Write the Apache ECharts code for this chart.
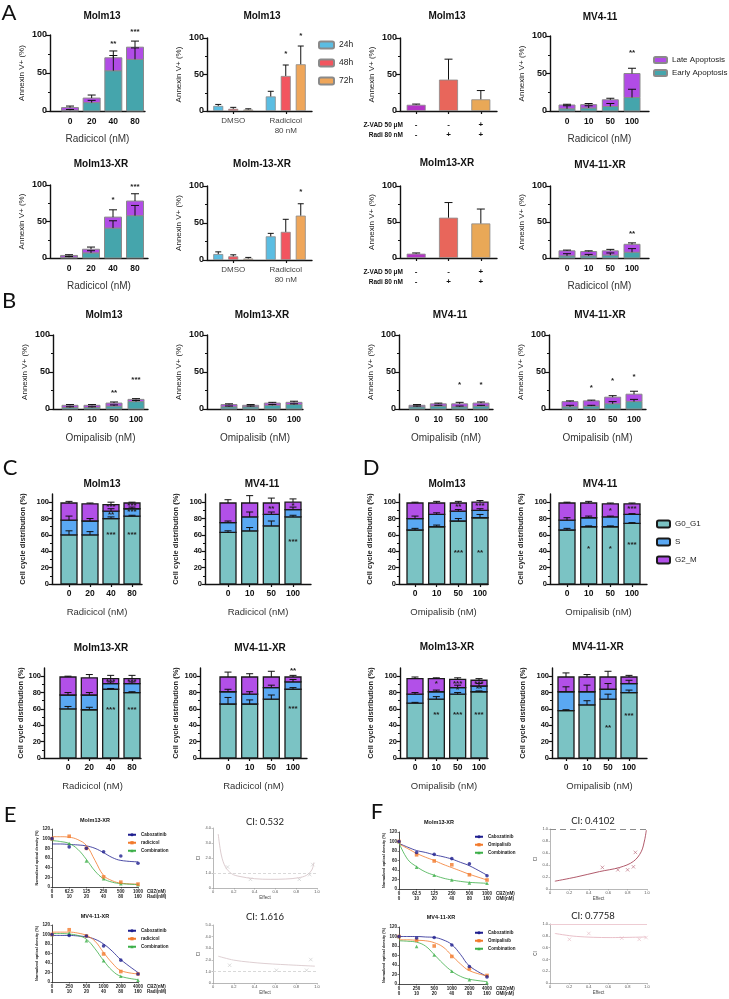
<!DOCTYPE html>
<html>
<head>
<meta charset="utf-8">
<title>Apoptosis, cell cycle and synergy panels</title>
<script src="https://cdn.jsdelivr.net/npm/echarts@6.0.0/dist/echarts.min.js"></script>
<style>
  html, body { margin: 0; padding: 0; background: #fff; }
  #chart { width: 729px; height: 999px; }
</style>
</head>
<body>
<div id="chart"></div>
<script>
// ---- categories / tick labels ----
const radiMolm = ['0', '20', '40', '80'];
const radiMv = ['0', '10', '50', '100'];
const omiDoses = ['0', '10', '50', '100'];
const timeGroups = ['DMSO', 'Radicicol\n80 nM'];
const zvadSigns = ['-', '-', '+'];
const radiSigns = ['-', '+', '+'];
const cycleTicks = [0, 20, 40, 60, 80, 100];
const cbzSmall = ['0', '62.5', '125', '250', '500', '1000'];
const cbzLarge = ['0', '250', '500', '1000', '2000', '4000'];
const partnerDoses = ['0', '10', '20', '40', '80', '160'];

// ---- A: Annexin V+ (%) ----
const a1Early = [1, 11, 53, 68];
const a1Late = [3.5, 6, 17, 16];
const a1EarlyErr = [1, 3, 20, 15];
const a1LateErr = [2, 4, 9, 8];
const a1Stars = [[2, 88, '**'], [3, 104, '***']];

const a2H24 = [7, 20];
const a2H48 = [3, 48];
const a2H72 = [2, 64];
const a2Err24 = [2, 7];
const a2Err48 = [2, 15];
const a2Err72 = [1, 25];
const a2Stars48 = [[1, 78, '*']];
const a2Stars72 = [[1, 103, '*']];

const a3Vals = [8.5, 43, 16];
const a3Err = [1, 28, 12];

const a4Early = [3, 4, 6, 18];
const a4Late = [5, 4.5, 9, 32];
const a4EarlyErr = [4, 3, 4, 11];
const a4LateErr = [1, 1.5, 2, 7];
const a4Stars = [[3, 77, '**']];

const a5Early = [1, 7, 41, 58];
const a5Late = [2.5, 5, 15, 20];
const a5EarlyErr = [1, 3, 10, 14];
const a5LateErr = [1, 3, 10, 10];
const a5Stars = [[2, 80, '*'], [3, 97, '***']];

const a6H24 = [8, 32];
const a6H48 = [5, 38];
const a6H72 = [2, 60];
const a6Err24 = [3, 4];
const a6Err48 = [2, 17];
const a6Err72 = [1.5, 16];
const a6Stars72 = [[1, 92, '*']];

const a7Vals = [6, 56, 48];
const a7Err = [1, 21, 20];

const a8Early = [3, 3, 4, 8];
const a8Late = [7, 6, 6, 11];
const a8EarlyErr = [3, 2, 3, 5];
const a8LateErr = [1, 1, 2, 2];
const a8Stars = [[3, 33, '**']];

// ---- B: Annexin V+ (%), omipalisib ----
const b1Early = [2, 2, 4, 10];
const b1Late = [3, 3, 4, 3];
const b1EarlyErr = [1, 1, 1.5, 1.5];
const b1LateErr = [1, 1, 1.5, 1];
const b1Stars = [[2, 22, '**'], [3, 40, '***']];

const b2Early = [3, 3, 5, 6];
const b2Late = [3, 2, 3, 3];
const b2EarlyErr = [1, 1, 1, 1];
const b2LateErr = [1, 1, 1, 1.5];

const b3Early = [3, 4, 3, 4];
const b3Late = [2, 3, 4, 4];
const b3EarlyErr = [1, 1, 1, 1];
const b3LateErr = [1, 1, 2, 1.5];
const b3Stars = [[2, 33, '*'], [3, 33, '*']];

const b4Early = [3, 4, 7, 10];
const b4Late = [7, 7, 9, 10];
const b4EarlyErr = [2, 1, 3, 3];
const b4LateErr = [1, 1, 2, 4];
const b4Stars = [[1, 28, '*'], [2, 38, '*'], [3, 44, '*']];

// ---- C: cell cycle, radicicol ----
const c1G0 = [60, 60, 80, 83];
const c1S = [18, 17, 9, 9];
const c1G2 = [21, 21, 8, 7];
const c1G0Err = [5, 4, 2, 1];
const c1SErr = [5, 3, 3, 2];
const c1G2Err = [2, 1, 3, 1];
const c1Stars = [[2, 60, '***'], [3, 60, '***'], [2, 85, '**'], [3, 88, '***'], [2, 94, '***'], [3, 96, '***']];

const c2G0 = [63, 65, 71, 82];
const c2S = [12, 17, 14, 9];
const c2G2 = [24, 17, 14, 9];
const c2G0Err = [2, 4, 6, 2];
const c2SErr = [2, 6, 3, 3];
const c2G2Err = [4, 9, 6, 4];
const c2Stars = [[2, 92, '**'], [3, 96, '*'], [3, 52, '***']];

const c3G0 = [60, 59, 84, 80];
const c3S = [17, 18, 7, 11];
const c3G2 = [22, 21, 6, 6];
const c3G0Err = [3, 3, 1, 1];
const c3SErr = [3, 3, 2, 2];
const c3G2Err = [1, 4, 4, 4];
const c3Stars = [[2, 59, '***'], [3, 59, '***'], [2, 93, '***'], [3, 93, '***']];

const c4G0 = [66, 66, 72, 84];
const c4S = [15, 12, 14, 9];
const c4G2 = [18, 21, 13, 6];
const c4G0Err = [8, 5, 5, 2];
const c4SErr = [3, 3, 3, 3];
const c4G2Err = [6, 4, 7, 2];
const c4Stars = [[3, 107, '**'], [3, 60, '***']];

// ---- D: cell cycle, omipalisib ----
const d1G0 = [66, 70, 77, 81];
const d1S = [14, 15, 12, 9];
const d1G2 = [19, 14, 10, 10];
const d1G0Err = [2, 2, 3, 4];
const d1SErr = [3, 2, 2, 2];
const d1G2Err = [1, 2, 2, 2];
const d1Stars = [[2, 38, '***'], [3, 38, '**'], [2, 94, '**'], [3, 95, '***']];

const d2G0 = [66, 70, 70, 74];
const d2S = [12, 11, 12, 11];
const d2G2 = [21, 18, 16, 13];
const d2G0Err = [2, 1, 1, 1];
const d2SErr = [3, 2, 1, 1];
const d2G2Err = [1, 2, 1, 1];
const d2Stars = [[1, 43, '*'], [2, 43, '*'], [3, 48, '***'], [2, 90, '*'], [3, 92, '***']];

const d3G0 = [67, 72, 78, 81];
const d3S = [11, 9, 8, 7];
const d3G2 = [19, 16, 10, 7];
const d3G0Err = [1, 3, 2, 1];
const d3SErr = [2, 2, 3, 3];
const d3G2Err = [2, 1, 2, 2];
const d3Stars = [[1, 53, '**'], [2, 53, '***'], [3, 53, '***'], [1, 91, '*'], [2, 91, '***'], [3, 91, '***'], [2, 83, '*'], [3, 85, '**']];

const d4G0 = [58, 65, 72, 80];
const d4S = [23, 16, 12, 11];
const d4G2 = [18, 18, 15, 8];
const d4G0Err = [1, 5, 6, 3];
const d4SErr = [6, 8, 7, 4];
const d4G2Err = [5, 3, 7, 2];
const d4Stars = [[2, 37, '**'], [3, 52, '***']];

// ---- E / F: dose response (points + fitted curves read at fitX) ----
const fitX = [0, 0.5, 1, 1.5, 2, 2.5, 3, 3.5, 4, 5];

const e1CaboPts = [100, 83, 80, 73, 64, 49];
const e1RadiPts = [100, 105, 80, 21, 10, 6];
const e1CombPts = [100, 90, 54, 17, 7, 5];
const e1CaboFit = [89, 89, 88, 87, 85, 80, 71, 61, 55, 52];
const e1RadiFit = [104, 104, 103, 98, 86, 55, 24, 13, 8, 6];
const e1CombFit = [96, 94, 90, 78, 57, 33, 17, 10, 7, 5];

const e3CaboPts = [100, 98, 97, 76, 46, 17];
const e3RadiPts = [100, 110, 97, 59, 22, 17];
const e3CombPts = [100, 103, 87, 45, 12, 4];
const e3CaboFit = [98, 98, 98, 97, 95, 90, 80, 65, 47, 20];
const e3RadiFit = [105, 105, 105, 103, 98, 86, 62, 40, 24, 17];
const e3CombFit = [102, 102, 101, 98, 90, 70, 45, 24, 12, 5];

const f1CaboPts = [100, 77, 73, 64, 53, 28];
const f1OmiPts = [100, 72, 59, 51, 30, 19];
const f1CombPts = [100, 46, 29, 19, 13, 12];
const f1CaboFit = [96, 88, 81, 77, 72, 68, 63, 56, 49, 29];
const f1OmiFit = [95, 85, 75, 67, 60, 52, 45, 38, 31, 19];
const f1CombFit = [97, 62, 47, 36, 29, 23, 19, 16, 14, 12];

const f3CaboPts = [100, 97, 98, 82, 37, 15];
const f3OmiPts = [100, 92, 80, 58, 32, 18];
const f3CombPts = [100, 79, 61, 27, 9, 3];
const f3CaboFit = [100, 100, 100, 99, 98, 93, 83, 62, 38, 16];
const f3OmiFit = [93, 93, 92, 91, 87, 78, 60, 42, 28, 17];
const f3CombFit = [91, 90, 88, 80, 62, 43, 27, 16, 10, 5];

// ---- E / F: combination index vs effect ----
const e2CurveX = [0.05, 0.08, 0.12, 0.18, 0.25, 0.4, 0.55, 0.7, 0.82, 0.9, 0.95, 0.97];
const e2CurveY = [3.6, 2.2, 1.4, 0.95, 0.78, 0.62, 0.58, 0.6, 0.68, 0.85, 1.2, 1.7];
const e2PtsX = [0.14, 0.36, 0.83, 0.93, 0.96];
const e2PtsY = [1.4, 0.58, 0.58, 0.89, 1.56];

const e4CurveX = [0.05, 0.2, 0.35, 0.5, 0.65, 0.8, 0.98];
const e4CurveY = [2.31, 1.97, 1.8, 1.68, 1.6, 1.53, 1.45];
const e4PtsX = [0.16, 0.61, 0.9, 0.94];
const e4PtsY = [1.53, 1.1, 1.1, 2.02];

const f2CurveX = [0.05, 0.27, 0.51, 0.72, 0.86, 0.94, 0.976, 0.993];
const f2CurveY = [0.13, 0.2, 0.29, 0.36, 0.46, 0.62, 0.82, 0.98];
const f2PtsX = [0.54, 0.7, 0.8, 0.86, 0.88];
const f2PtsY = [0.36, 0.32, 0.32, 0.37, 0.61];

const f4CurveX = [0.05, 0.27, 0.62, 0.99];
const f4CurveY = [0.84, 0.79, 0.77, 0.78];
const f4PtsX = [0.2, 0.4, 0.74, 0.92, 0.99];
const f4PtsY = [0.74, 0.84, 0.76, 0.74, 0.77];

// ---- colours ----
const TEAL_A = '#45a5ac', PURPLE_A = '#b14ce6';
const TEAL_C = '#7bc3c4', BLUE_S = '#5aa8f3', PURPLE_C = '#b250e8';
const C24 = '#5bbde2', C48 = '#f2555f', C72 = '#efa65a';
const ZCOL = ['#b434c6', '#e8665b', '#e9a857'];
const NAVY = '#1f1f8f', ORANGE = '#f27a2c', GREEN = '#3daf49';

const ARIAL = '"Liberation Sans", Arial, sans-serif';
const CAL = 'Lato, "Open Sans", sans-serif';

const chart = echarts.init(document.getElementById('chart'));
const opt = {
  animation: false,
  backgroundColor: '#ffffff',
  textStyle: { fontFamily: ARIAL },
  grid: [], xAxis: [], yAxis: [], series: [], legend: [], graphic: []
};

function label(text, x, y, font, color, align) {
  opt.graphic.push({
    type: 'text', x: x, y: y, silent: true,
    style: {
      text: text, font: font, fill: color || '#111',
      align: align || 'center', textAlign: align || 'center',
      verticalAlign: 'middle', textVerticalAlign: 'middle'
    }
  });
}

function addGrid(ax, end, yTop, yBot) {
  opt.grid.push({ left: ax, top: yTop, width: end - ax, height: yBot - yTop });
  return opt.grid.length - 1;
}

// onZero off: the value x axes start below zero, keep the y axis at the grid edge
const AXIS_LINE = { show: true, onZero: false, lineStyle: { color: '#111', width: 1.4 } };

// one stacked segment per data item: [x, base, top]
function segmentSeries(gi, name, color, border, bw, lw, data) {
  return {
    type: 'custom', name: name, xAxisIndex: gi, yAxisIndex: gi, silent: true, z: 2, data: data,
    itemStyle: { color: color, borderColor: border, borderWidth: 1 },
    renderItem: function (params, api) {
      const lo = api.coord([api.value(0), api.value(1)]);
      const hi = api.coord([api.value(0), api.value(2)]);
      return {
        type: 'rect',
        shape: { x: lo[0] - bw / 2, y: hi[1], width: bw, height: lo[1] - hi[1] },
        style: { fill: color, stroke: border, lineWidth: lw }
      };
    }
  };
}

// error bar drawn upward from a bar top: [x, top, err, dxPixels]
function errorSeries(gi, data, cap) {
  return {
    type: 'custom', xAxisIndex: gi, yAxisIndex: gi, silent: true, z: 4, data: data,
    renderItem: function (params, api) {
      const base = api.coord([api.value(0), api.value(1)]);
      const tip = api.coord([api.value(0), api.value(1) + api.value(2)]);
      const x = base[0] + (api.value(3) || 0);
      const st = { stroke: '#111', lineWidth: 1 };
      return {
        type: 'group', children: [
          { type: 'line', shape: { x1: x, y1: base[1], x2: x, y2: tip[1] }, style: st },
          { type: 'line', shape: { x1: x - cap, y1: tip[1], x2: x + cap, y2: tip[1] }, style: st }
        ]
      };
    }
  };
}

// significance marks: [x, y, text, dxPixels]
function starSeries(gi, stars, font) {
  return {
    type: 'custom', xAxisIndex: gi, yAxisIndex: gi, silent: true, z: 5,
    data: stars.map(s => [s[0], s[1], s[3] || 0]),
    renderItem: function (params, api) {
      const p = api.coord([api.value(0), api.value(1)]);
      return {
        type: 'text', x: p[0] + api.value(2), y: p[1],
        style: {
          text: stars[params.dataIndex][2], font: font, fill: '#222',
          align: 'center', textAlign: 'center', verticalAlign: 'middle', textVerticalAlign: 'middle'
        }
      };
    }
  };
}

function apopYAxis(gi, nameGap) {
  return {
    type: 'value', gridIndex: gi, min: 0, max: 100, interval: 50,
    axisLine: AXIS_LINE,
    axisTick: { show: true, length: 4, lineStyle: { color: '#111', width: 1.2 } },
    minorTick: { show: true, splitNumber: 2, length: 2, lineStyle: { color: '#111', width: 1 } },
    splitLine: { show: false },
    axisLabel: { fontSize: 9, fontWeight: 'bold', color: '#111', margin: 3 },
    name: 'Annexin V+ (%)', nameLocation: 'middle', nameGap: nameGap || 24,
    nameTextStyle: { fontSize: 8, color: '#222' }
  };
}

function cycleYAxis(gi, nameGap) {
  return {
    type: 'value', gridIndex: gi, min: 0, max: 110, interval: 20,
    axisLine: AXIS_LINE,
    axisTick: { show: true, length: 3.5, customValues: cycleTicks, lineStyle: { color: '#111', width: 1.2 } },
    minorTick: { show: true, splitNumber: 2, length: 2, lineStyle: { color: '#111', width: 1 } },
    splitLine: { show: false },
    axisLabel: { customValues: cycleTicks, fontSize: 7.5, fontWeight: 'bold', color: '#111', margin: 3 },
    name: 'Cell cycle distribution (%)', nameLocation: 'middle', nameGap: nameGap || 24,
    nameTextStyle: { fontSize: 7.5, fontWeight: 'bold', color: '#222' }
  };
}

// stacked bars on a value x axis so category centres can be placed exactly
function stackPanel(p) {
  const gi = addGrid(p.ax, p.end, p.yTop, p.yBot);
  const n = p.cats.length;
  const step = (p.c1 - p.c0) / (n - 1);
  const cycle = p.kind === 'cycle';
  const bw = p.bw || 16;
  const idx = p.cats.map((c, i) => i);
  opt.xAxis.push({
    type: 'value', gridIndex: gi,
    min: -(p.c0 - p.ax) / step, max: (n - 1) + (p.end - p.c1) / step,
    axisLine: AXIS_LINE,
    axisTick: { show: cycle, length: 3, customValues: idx, lineStyle: { color: '#111', width: 1.2 } },
    splitLine: { show: false },
    axisLabel: {
      customValues: idx, formatter: v => p.cats[Math.round(v)],
      fontSize: 8.5, fontWeight: 'bold', color: '#111', margin: cycle ? 5 : 6
    },
    name: p.xName, nameLocation: 'middle', nameGap: p.xGap || 23,
    nameTextStyle: { fontSize: cycle ? 9.5 : 10, color: '#333' }
  });
  opt.yAxis.push(cycle ? cycleYAxis(gi, p.yGap) : apopYAxis(gi, p.yGap));
  let cum = p.cats.map(() => 0);
  const errData = [];
  p.segs.forEach(s => {
    const base = cum.slice();
    cum = cum.map((c, i) => c + s.vals[i]);
    opt.series.push(segmentSeries(gi, s.name, s.color, cycle ? '#1a1a1a' : '#8a8a8a', bw, cycle ? 1.3 : 1,
      s.vals.map((v, i) => [i, base[i], cum[i]])));
    s.errs.forEach((e, i) => errData.push([i, cum[i], e, 0]));
  });
  opt.series.push(errorSeries(gi, errData, cycle ? 3.5 : 4));
  if (p.stars) opt.series.push(starSeries(gi, p.stars, 'bold 8px ' + ARIAL));
  label(p.title, p.tx, p.ty, 'bold 10px ' + ARIAL);
}

// grouped bars (time course)
function groupPanel(p) {
  const gi = addGrid(p.ax, p.end, p.yTop, p.yBot);
  opt.xAxis.push({
    type: 'category', gridIndex: gi, data: p.cats,
    axisLine: AXIS_LINE,
    axisTick: { show: true, alignWithLabel: true, length: 3, lineStyle: { color: '#111', width: 1.2 } },
    axisLabel: { fontSize: 8, color: '#444', lineHeight: 10, margin: 5, interval: 0 }
  });
  opt.yAxis.push(apopYAxis(gi));
  const m = p.sets.length;
  const errData = [], stars = [];
  p.sets.forEach((s, k) => {
    opt.series.push({
      type: 'bar', name: s.name, xAxisIndex: gi, yAxisIndex: gi,
      barWidth: p.bw, barGap: p.gap + '%', data: s.vals,
      itemStyle: { color: s.color, borderColor: '#8a8a8a', borderWidth: 0.8 }
    });
    const dx = (k - (m - 1) / 2) * p.bw * (1 + p.gap / 100);
    s.vals.forEach((v, i) => errData.push([i, v, s.errs[i], dx]));
    (s.stars || []).forEach(st => stars.push([st[0], st[1], st[2], dx]));
  });
  opt.series.push(errorSeries(gi, errData, 3));
  if (stars.length) opt.series.push(starSeries(gi, stars, 'bold 8px ' + ARIAL));
  label(p.title, p.tx, p.ty, 'bold 10px ' + ARIAL);
}

// Z-VAD rescue bars
function zvadPanel(p) {
  const gi = addGrid(p.ax, p.end, p.yTop, p.yBot);
  opt.xAxis.push({
    type: 'category', gridIndex: gi, data: zvadSigns.map((z, i) => z + '\n' + radiSigns[i]),
    axisLine: AXIS_LINE,
    axisTick: { show: true, alignWithLabel: true, length: 3, lineStyle: { color: '#111', width: 1.2 } },
    axisLabel: { fontSize: 8, fontWeight: 'bold', color: '#111', lineHeight: 10, margin: 9, interval: 0 }
  });
  opt.yAxis.push(apopYAxis(gi));
  opt.series.push({
    type: 'bar', xAxisIndex: gi, yAxisIndex: gi, barWidth: 19,
    data: p.vals.map((v, i) => ({ value: v, itemStyle: { color: ZCOL[i] } })),
    itemStyle: { borderColor: '#8a8a8a', borderWidth: 0.8 }
  });
  opt.series.push(errorSeries(gi, p.vals.map((v, i) => [i, v, p.errs[i], 0]), 4));
  label('Z-VAD 50 μM', p.ax + 3, p.yBot + 14, 'bold 6.5px ' + ARIAL, '#111', 'right');
  label('Radi 80 nM', p.ax + 3, p.yBot + 24, 'bold 6.5px ' + ARIAL, '#111', 'right');
  label(p.title, p.tx, p.ty, 'bold 10px ' + ARIAL);
}

// dose-response curves
function dosePanel(p) {
  const gi = addGrid(p.ax, p.end, p.yTop, p.yBot);
  const idx = p.top.map((t, i) => i);
  const thin = { show: true, onZero: false, lineStyle: { color: '#222', width: 0.8 } };
  opt.xAxis.push({
    type: 'value', gridIndex: gi, min: 0, max: 5,
    axisLine: thin,
    axisTick: { show: true, length: 1.5, customValues: idx, lineStyle: { color: '#222', width: 0.6 } },
    splitLine: { show: false },
    axisLabel: {
      customValues: idx, formatter: v => p.top[Math.round(v)] + '\n' + p.bottom[Math.round(v)],
      fontSize: 4.5, lineHeight: 5.5, fontWeight: 'bold', color: '#222', margin: 2
    },
    name: p.xName, nameLocation: 'end', nameGap: 9,
    nameTextStyle: { fontSize: 4.5, lineHeight: 5.5, fontWeight: 'bold', color: '#222', align: 'left', verticalAlign: 'top', padding: [2, 0, 0, 0] }
  });
  opt.yAxis.push({
    type: 'value', gridIndex: gi, min: 0, max: 120, interval: 20,
    axisLine: thin,
    axisTick: { show: true, length: 1.5, lineStyle: { color: '#222', width: 0.6 } },
    splitLine: { show: false },
    axisLabel: { fontSize: 4.5, fontWeight: 'bold', color: '#222', margin: 2 },
    name: 'Normalized optical density (%)', nameLocation: 'middle', nameGap: 11,
    nameTextStyle: { fontSize: 3.8, fontWeight: 'bold', color: '#222' }
  });
  p.curves.forEach((c, k) => {
    opt.series.push({
      type: 'line', name: c.name, xAxisIndex: gi, yAxisIndex: gi,
      data: fitX.map((x, i) => [x, c.fit[i]]), smooth: 0.4,
      symbol: c.symbol, symbolSize: 4, showSymbol: false,
      lineStyle: { color: c.color, width: 0.8 }, itemStyle: { color: c.color }, z: 2
    });
    opt.series.push({
      type: 'scatter', xAxisIndex: gi, yAxisIndex: gi, silent: true,
      data: c.pts.map((v, i) => [i, v]), symbol: c.symbol, symbolSize: 3.6,
      itemStyle: { color: c.color }, z: 5 - k
    });
  });
  opt.legend.push({
    data: p.curves.map(c => c.name), orient: 'vertical', left: p.lx, top: p.ly,
    itemWidth: 8, itemHeight: 4, itemGap: 2.5, padding: 0, selectedMode: false,
    textStyle: { fontSize: 4.5, lineHeight: 5.5, fontWeight: 'bold', color: '#222' }
  });
  label(p.title, p.tx, p.ty, 'bold 5.5px ' + ARIAL);
}

// combination index vs effect
const CROSS = 'path://M0 0L10 10M10 0L0 10';
function ciPanel(p) {
  const gi = addGrid(p.ax, p.end, p.yTop, p.yBot);
  const axisCol = '#9a9a9a';
  const line = { show: true, onZero: false, lineStyle: { color: axisCol, width: 0.7 } };
  const fmt = v => (v === 0 ? '0' : v.toFixed(1));
  opt.xAxis.push({
    type: 'value', gridIndex: gi, min: 0, max: 1, interval: 0.2,
    axisLine: line,
    axisTick: { show: true, length: 1.5, lineStyle: { color: axisCol, width: 0.6 } },
    splitLine: { show: false },
    axisLabel: { fontSize: 4, color: '#555', margin: 2, formatter: fmt },
    name: 'Effect', nameLocation: 'middle', nameGap: 6,
    nameTextStyle: { fontSize: 4.5, color: '#444' }
  });
  opt.yAxis.push({
    type: 'value', gridIndex: gi, min: 0, max: p.yMax, interval: p.yStep,
    axisLine: line,
    axisTick: { show: true, length: 1.5, lineStyle: { color: axisCol, width: 0.6 } },
    splitLine: { show: false },
    axisLabel: { fontSize: 4, color: '#555', margin: 2, formatter: fmt },
    name: 'CI', nameLocation: 'middle', nameGap: 11,
    nameTextStyle: { fontSize: 4.5, color: '#444' }
  });
  opt.series.push({
    type: 'line', xAxisIndex: gi, yAxisIndex: gi, silent: true,
    data: p.cx.map((x, i) => [x, p.cy[i]]), smooth: 0.35, symbol: 'none',
    lineStyle: { color: p.color, width: 0.9 },
    markLine: { silent: true, symbol: 'none', label: { show: false }, data: [{ yAxis: 1 }], lineStyle: p.ref }
  });
  opt.series.push({
    type: 'scatter', xAxisIndex: gi, yAxisIndex: gi, silent: true,
    data: p.px.map((x, i) => [x, p.py[i]]), symbol: CROSS, symbolSize: 3.5,
    itemStyle: { color: 'rgba(0,0,0,0)', borderColor: p.ptColor, borderWidth: 0.7 }
  });
  label(p.title, p.tx, p.ty, '9.5px ' + CAL, '#222');
}

function apopSegs(early, late, earlyErr, lateErr) {
  return [
    { name: 'Early Apoptosis', vals: early, errs: earlyErr, color: TEAL_A },
    { name: 'Late Apoptosis', vals: late, errs: lateErr, color: PURPLE_A }
  ];
}
function cycleSegs(g0, s, g2, g0e, se, g2e) {
  return [
    { name: 'G0_G1', vals: g0, errs: g0e, color: TEAL_C },
    { name: 'S', vals: s, errs: se, color: BLUE_S },
    { name: 'G2_M', vals: g2, errs: g2e, color: PURPLE_C }
  ];
}

// ---------------- panel A ----------------
stackPanel({ kind: 'apop', title: 'Molm13', tx: 102, ty: 16, ax: 50, c0: 70, c1: 135, end: 145, yTop: 35, yBot: 111,
  cats: radiMolm, xName: 'Radicicol (nM)', segs: apopSegs(a1Early, a1Late, a1EarlyErr, a1LateErr), stars: a1Stars, bw: 17 });
groupPanel({ title: 'Molm13', tx: 262, ty: 16, ax: 207, end: 312, yTop: 38, yBot: 111, cats: timeGroups, bw: 10, gap: 50,
  sets: [
    { name: '24h', vals: a2H24, errs: a2Err24, color: C24 },
    { name: '48h', vals: a2H48, errs: a2Err48, color: C48, stars: a2Stars48 },
    { name: '72h', vals: a2H72, errs: a2Err72, color: C72, stars: a2Stars72 }
  ] });
zvadPanel({ title: 'Molm13', tx: 447, ty: 16, ax: 400, end: 497, yTop: 38, yBot: 111, vals: a3Vals, errs: a3Err });
stackPanel({ kind: 'apop', title: 'MV4-11', tx: 600, ty: 17, ax: 550, c0: 567, c1: 632, end: 649, yTop: 36, yBot: 111,
  cats: radiMv, xName: 'Radicicol (nM)', segs: apopSegs(a4Early, a4Late, a4EarlyErr, a4LateErr), stars: a4Stars, bw: 16 });

stackPanel({ kind: 'apop', title: 'Molm13-XR', tx: 101, ty: 164, ax: 50, c0: 69, c1: 135, end: 148, yTop: 185, yBot: 258,
  cats: radiMolm, xName: 'Radicicol (nM)', segs: apopSegs(a5Early, a5Late, a5EarlyErr, a5LateErr), stars: a5Stars, bw: 17 });
groupPanel({ title: 'Molm-13-XR', tx: 262, ty: 164, ax: 207, end: 312, yTop: 186, yBot: 260, cats: timeGroups, bw: 10, gap: 50,
  sets: [
    { name: '24h', vals: a6H24, errs: a6Err24, color: C24 },
    { name: '48h', vals: a6H48, errs: a6Err48, color: C48 },
    { name: '72h', vals: a6H72, errs: a6Err72, color: C72, stars: a6Stars72 }
  ] });
zvadPanel({ title: 'Molm13-XR', tx: 447, ty: 163, ax: 400, end: 497, yTop: 186, yBot: 258, vals: a7Vals, errs: a7Err });
stackPanel({ kind: 'apop', title: 'MV4-11-XR', tx: 600, ty: 165, ax: 550, c0: 567, c1: 632, end: 649, yTop: 186, yBot: 258,
  cats: radiMv, xName: 'Radicicol (nM)', segs: apopSegs(a8Early, a8Late, a8EarlyErr, a8LateErr), stars: a8Stars, bw: 16 });

opt.legend.push({ data: ['24h', '48h', '72h'], orient: 'vertical', left: 318, top: 40, itemWidth: 15, itemHeight: 7, itemGap: 8,
  padding: 0, selectedMode: false, textStyle: { fontSize: 8.5, lineHeight: 10, color: '#222' } });
opt.legend.push({ data: ['Late Apoptosis', 'Early Apoptosis'], orient: 'vertical', left: 653, top: 55, itemWidth: 13, itemHeight: 6, itemGap: 3,
  padding: 0, selectedMode: false, textStyle: { fontSize: 8, lineHeight: 10, color: '#222' } });

// ---------------- panel B ----------------
stackPanel({ kind: 'apop', title: 'Molm13', tx: 104, ty: 315, ax: 53, c0: 70, c1: 136, end: 148, yTop: 335, yBot: 409,
  cats: omiDoses, xName: 'Omipalisib (nM)', xGap: 24, segs: apopSegs(b1Early, b1Late, b1EarlyErr, b1LateErr), stars: b1Stars, bw: 16 });
stackPanel({ kind: 'apop', title: 'Molm13-XR', tx: 262, ty: 315, ax: 207, c0: 229, c1: 294, end: 303, yTop: 335, yBot: 409,
  cats: omiDoses, xName: 'Omipalisib (nM)', xGap: 24, segs: apopSegs(b2Early, b2Late, b2EarlyErr, b2LateErr), bw: 16 });
stackPanel({ kind: 'apop', title: 'MV4-11', tx: 450, ty: 315, ax: 399, c0: 417, c1: 481, end: 493, yTop: 335, yBot: 409,
  cats: omiDoses, xName: 'Omipalisib (nM)', xGap: 24, segs: apopSegs(b3Early, b3Late, b3EarlyErr, b3LateErr), stars: b3Stars, bw: 16 });
stackPanel({ kind: 'apop', title: 'MV4-11-XR', tx: 600, ty: 315, ax: 549, c0: 570, c1: 634, end: 646, yTop: 335, yBot: 409,
  cats: omiDoses, xName: 'Omipalisib (nM)', xGap: 24, segs: apopSegs(b4Early, b4Late, b4EarlyErr, b4LateErr), stars: b4Stars, bw: 16 });

// ---------------- panels C and D ----------------
stackPanel({ kind: 'cycle', title: 'Molm13', tx: 102, ty: 484, ax: 52, c0: 69, c1: 132, end: 142, yTop: 494, yBot: 584,
  cats: radiMolm, xName: 'Radicicol (nM)', yGap: 25, segs: cycleSegs(c1G0, c1S, c1G2, c1G0Err, c1SErr, c1G2Err), stars: c1Stars, bw: 16 });
stackPanel({ kind: 'cycle', title: 'MV4-11', tx: 262, ty: 484, ax: 205, c0: 228, c1: 293, end: 311, yTop: 494, yBot: 584,
  cats: radiMv, xName: 'Radicicol (nM)', yGap: 25, segs: cycleSegs(c2G0, c2S, c2G2, c2G0Err, c2SErr, c2G2Err), stars: c2Stars, bw: 16 });
stackPanel({ kind: 'cycle', title: 'Molm13', tx: 447, ty: 484, ax: 399, c0: 415, c1: 480, end: 488, yTop: 494, yBot: 584,
  cats: omiDoses, xName: 'Omipalisib (nM)', yGap: 25, segs: cycleSegs(d1G0, d1S, d1G2, d1G0Err, d1SErr, d1G2Err), stars: d1Stars, bw: 16 });
stackPanel({ kind: 'cycle', title: 'MV4-11', tx: 600, ty: 484, ax: 550, c0: 567, c1: 632, end: 647, yTop: 494, yBot: 584,
  cats: omiDoses, xName: 'Omipalisib (nM)', yGap: 25, segs: cycleSegs(d2G0, d2S, d2G2, d2G0Err, d2SErr, d2G2Err), stars: d2Stars, bw: 16 });

stackPanel({ kind: 'cycle', title: 'Molm13-XR', tx: 101, ty: 648, ax: 44, c0: 68, c1: 132, end: 141, yTop: 668, yBot: 758,
  cats: radiMolm, xName: 'Radicicol (nM)', yGap: 18, segs: cycleSegs(c3G0, c3S, c3G2, c3G0Err, c3SErr, c3G2Err), stars: c3Stars, bw: 16 });
stackPanel({ kind: 'cycle', title: 'MV4-11-XR', tx: 260, ty: 648, ax: 200, c0: 228, c1: 293, end: 307, yTop: 668, yBot: 758,
  cats: radiMv, xName: 'Radicicol (nM)', yGap: 20, segs: cycleSegs(c4G0, c4S, c4G2, c4G0Err, c4SErr, c4G2Err), stars: c4Stars, bw: 16 });
stackPanel({ kind: 'cycle', title: 'Molm13-XR', tx: 447, ty: 647, ax: 400, c0: 415, c1: 479, end: 488, yTop: 668, yBot: 758,
  cats: omiDoses, xName: 'Omipalisib (nM)', yGap: 25, segs: cycleSegs(d3G0, d3S, d3G2, d3G0Err, d3SErr, d3G2Err), stars: d3Stars, bw: 16 });
stackPanel({ kind: 'cycle', title: 'MV4-11-XR', tx: 598, ty: 647, ax: 552, c0: 566, c1: 629, end: 647, yTop: 668, yBot: 758,
  cats: omiDoses, xName: 'Omipalisib (nM)', yGap: 25, segs: cycleSegs(d4G0, d4S, d4G2, d4G0Err, d4SErr, d4G2Err), stars: d4Stars, bw: 16 });

opt.legend.push({ data: ['G0_G1', 'S', 'G2_M'], orient: 'vertical', left: 656, top: 519, itemWidth: 13, itemHeight: 7, itemGap: 8,
  padding: 0, selectedMode: false, textStyle: { fontSize: 8, lineHeight: 10, color: '#222' } });

// ---------------- panels E and F ----------------
dosePanel({ title: 'Molm13-XR', tx: 95, ty: 820, ax: 52, end: 138, yTop: 829, yBot: 887, top: cbzSmall, bottom: partnerDoses,
  xName: 'CBZ(nM)\nRadi(nM)', lx: 127, ly: 832,
  curves: [
    { name: 'Cabozatinib', pts: e1CaboPts, fit: e1CaboFit, color: NAVY, symbol: 'circle' },
    { name: 'radicicol', pts: e1RadiPts, fit: e1RadiFit, color: ORANGE, symbol: 'rect' },
    { name: 'Combination', pts: e1CombPts, fit: e1CombFit, color: GREEN, symbol: 'triangle' }
  ] });
dosePanel({ title: 'MV4-11-XR', tx: 95, ty: 916, ax: 52, end: 138, yTop: 925, yBot: 982, top: cbzLarge, bottom: partnerDoses,
  xName: 'CBZ(nM)\nRadi(nM)', lx: 127, ly: 928,
  curves: [
    { name: 'Cabozatinib', pts: e3CaboPts, fit: e3CaboFit, color: NAVY, symbol: 'circle' },
    { name: 'radicicol', pts: e3RadiPts, fit: e3RadiFit, color: ORANGE, symbol: 'rect' },
    { name: 'Combination', pts: e3CombPts, fit: e3CombFit, color: GREEN, symbol: 'triangle' }
  ] });
dosePanel({ title: 'Molm13-XR', tx: 439, ty: 822, ax: 399, end: 487, yTop: 832, yBot: 889, top: cbzSmall, bottom: partnerDoses,
  xName: 'CBZ(nM)\nOMI(nM)', lx: 474, ly: 834,
  curves: [
    { name: 'Cabozatinib', pts: f1CaboPts, fit: f1CaboFit, color: NAVY, symbol: 'circle' },
    { name: 'Omipalisib', pts: f1OmiPts, fit: f1OmiFit, color: ORANGE, symbol: 'rect' },
    { name: 'Combination', pts: f1CombPts, fit: f1CombFit, color: GREEN, symbol: 'triangle' }
  ] });
dosePanel({ title: 'MV4-11-XR', tx: 441, ty: 917, ax: 399, end: 487, yTop: 927, yBot: 984, top: cbzLarge, bottom: partnerDoses,
  xName: 'CBZ(nM)\nOMI(nM)', lx: 474, ly: 930,
  curves: [
    { name: 'Cabozatinib', pts: f3CaboPts, fit: f3CaboFit, color: NAVY, symbol: 'circle' },
    { name: 'Omipalisib', pts: f3OmiPts, fit: f3OmiFit, color: ORANGE, symbol: 'rect' },
    { name: 'Combination', pts: f3CombPts, fit: f3CombFit, color: GREEN, symbol: 'triangle' }
  ] });

ciPanel({ title: 'CI: 0.532', tx: 265, ty: 822, ax: 213, end: 317, yTop: 828, yBot: 888, yMax: 4, yStep: 1,
  cx: e2CurveX, cy: e2CurveY, px: e2PtsX, py: e2PtsY, color: '#d8c6ca', ptColor: '#c4c4c4',
  ref: { color: '#cfcfcf', type: [3, 2], width: 0.8 } });
ciPanel({ title: 'CI: 1.616', tx: 265, ty: 917, ax: 213, end: 317, yTop: 925, yBot: 983, yMax: 5, yStep: 1,
  cx: e4CurveX, cy: e4CurveY, px: e4PtsX, py: e4PtsY, color: '#dac9cd', ptColor: '#c4c4c4',
  ref: { color: '#cfcfcf', type: [3, 2], width: 0.8 } });
ciPanel({ title: 'CI: 0.4102', tx: 593, ty: 821, ax: 550, end: 647, yTop: 829, yBot: 889, yMax: 1, yStep: 0.2,
  cx: f2CurveX, cy: f2CurveY, px: f2PtsX, py: f2PtsY, color: '#a8475a', ptColor: '#b0566a',
  ref: { color: '#8c8c8c', type: [6, 4], width: 1.2 } });
ciPanel({ title: 'CI: 0.7758', tx: 593, ty: 916, ax: 550, end: 647, yTop: 924, yBot: 983, yMax: 1, yStep: 0.2,
  cx: f4CurveX, cy: f4CurveY, px: f4PtsX, py: f4PtsY, color: '#e6b9c3', ptColor: '#e3b3be',
  ref: { color: '#ecc6ce', type: 'solid', width: 0.9 } });

// panel letters
label('A', 9, 13, '22px ' + CAL, '#111');
label('B', 9, 301, '22px ' + CAL, '#111');
label('C', 10, 468, '22px ' + CAL, '#111');
label('D', 371, 468, '22px ' + CAL, '#111');
label('E', 10, 815, '22px ' + CAL, '#111');
label('F', 377, 812, '22px ' + CAL, '#111');

chart.setOption(opt);
</script>
</body>
</html>
